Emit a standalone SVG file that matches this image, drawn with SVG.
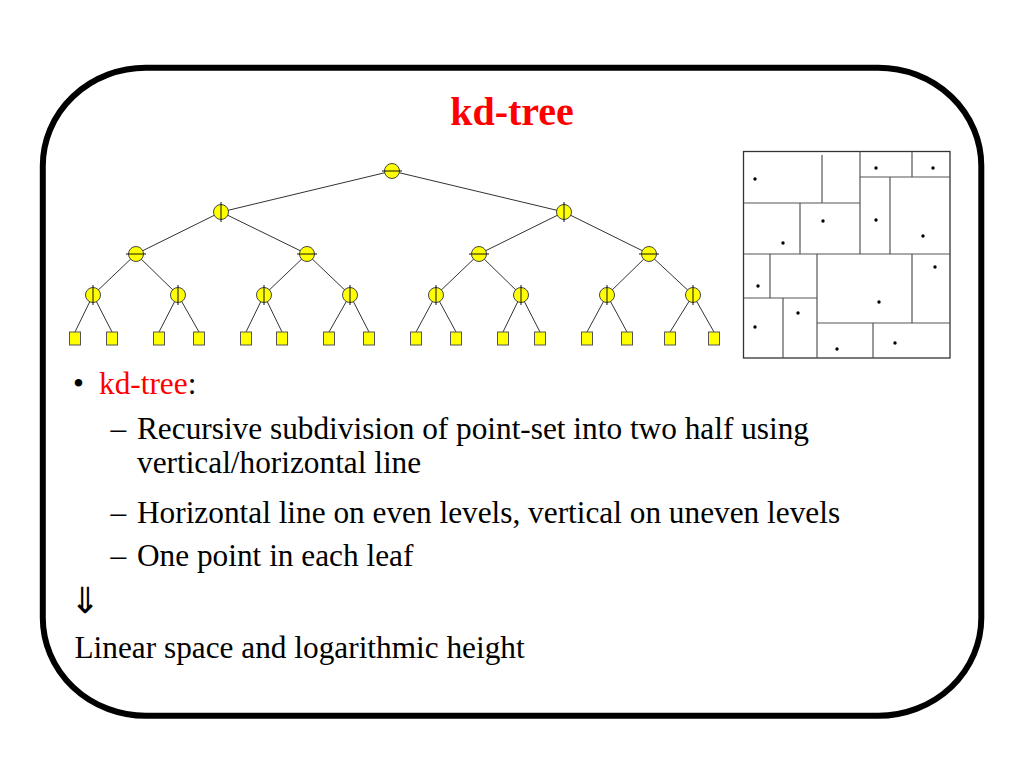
<svg xmlns="http://www.w3.org/2000/svg" width="1024" height="768" viewBox="0 0 1024 768">
<style>
.frame{fill:none;stroke:#000;stroke-width:6}
.edge{stroke:#333;stroke-width:1;fill:none}
.inode{fill:#ffff00;stroke:#444;stroke-width:1}
.leaf{fill:#ffff00;stroke:#555;stroke-width:1}
.div{stroke:#111;stroke-width:1}
.box{fill:none;stroke:#333;stroke-width:1.3}
.cut{stroke:#555;stroke-width:1.2}
.pt{fill:#000}
.t{font-family:"Liberation Serif","Times New Roman",serif;font-size:31.3px;fill:#000}
.title{font-family:"Liberation Serif","Times New Roman",serif;font-size:40px;font-weight:bold;fill:#ff0000}
.red{fill:#ff0000}
.arrow{font-family:"DejaVu Sans",sans-serif;font-size:36px;fill:#000}
</style>
<rect class="frame" x="42.8" y="67.8" width="938.5" height="648" rx="103" ry="98"/>
<text class="title" x="512" y="125" text-anchor="middle">kd-tree</text>

<g id="connectors">
<line class="edge" x1="392" y1="171" x2="221" y2="212"/>
<line class="edge" x1="392" y1="171" x2="564" y2="212"/>
<line class="edge" x1="221" y1="212" x2="136" y2="254"/>
<line class="edge" x1="221" y1="212" x2="307" y2="254"/>
<line class="edge" x1="564" y1="212" x2="479" y2="254"/>
<line class="edge" x1="564" y1="212" x2="649" y2="254"/>
<line class="edge" x1="136" y1="254" x2="93" y2="295"/>
<line class="edge" x1="136" y1="254" x2="178" y2="295"/>
<line class="edge" x1="307" y1="254" x2="264" y2="295"/>
<line class="edge" x1="307" y1="254" x2="350" y2="295"/>
<line class="edge" x1="479" y1="254" x2="436" y2="295"/>
<line class="edge" x1="479" y1="254" x2="521" y2="295"/>
<line class="edge" x1="649" y1="254" x2="607" y2="295"/>
<line class="edge" x1="649" y1="254" x2="693" y2="295"/>
<line class="edge" x1="93" y1="295" x2="75" y2="332"/>
<line class="edge" x1="93" y1="295" x2="112" y2="332"/>
<line class="edge" x1="178" y1="295" x2="159" y2="332"/>
<line class="edge" x1="178" y1="295" x2="199" y2="332"/>
<line class="edge" x1="264" y1="295" x2="246" y2="332"/>
<line class="edge" x1="264" y1="295" x2="282" y2="332"/>
<line class="edge" x1="350" y1="295" x2="329" y2="332"/>
<line class="edge" x1="350" y1="295" x2="369" y2="332"/>
<line class="edge" x1="436" y1="295" x2="416" y2="332"/>
<line class="edge" x1="436" y1="295" x2="456" y2="332"/>
<line class="edge" x1="521" y1="295" x2="503" y2="332"/>
<line class="edge" x1="521" y1="295" x2="540" y2="332"/>
<line class="edge" x1="607" y1="295" x2="587" y2="332"/>
<line class="edge" x1="607" y1="295" x2="627" y2="332"/>
<line class="edge" x1="693" y1="295" x2="670" y2="332"/>
<line class="edge" x1="693" y1="295" x2="714" y2="332"/>
</g>

<g id="n0"><circle class="inode" cx="392" cy="171" r="7.5"/><line class="div" x1="382" y1="171" x2="402" y2="171"/></g>
<g id="n1"><circle class="inode" cx="221" cy="212" r="7.5"/><line class="div" x1="221" y1="202" x2="221" y2="222"/></g>
<g id="n2"><circle class="inode" cx="564" cy="212" r="7.5"/><line class="div" x1="564" y1="202" x2="564" y2="222"/></g>
<g id="n3"><circle class="inode" cx="136" cy="254" r="7.5"/><line class="div" x1="126" y1="254" x2="146" y2="254"/></g>
<g id="n4"><circle class="inode" cx="307" cy="254" r="7.5"/><line class="div" x1="297" y1="254" x2="317" y2="254"/></g>
<g id="n5"><circle class="inode" cx="479" cy="254" r="7.5"/><line class="div" x1="469" y1="254" x2="489" y2="254"/></g>
<g id="n6"><circle class="inode" cx="649" cy="254" r="7.5"/><line class="div" x1="639" y1="254" x2="659" y2="254"/></g>
<g id="n7"><circle class="inode" cx="93" cy="295" r="7.5"/><line class="div" x1="93" y1="285" x2="93" y2="305"/></g>
<g id="n8"><circle class="inode" cx="178" cy="295" r="7.5"/><line class="div" x1="178" y1="285" x2="178" y2="305"/></g>
<g id="n9"><circle class="inode" cx="264" cy="295" r="7.5"/><line class="div" x1="264" y1="285" x2="264" y2="305"/></g>
<g id="n10"><circle class="inode" cx="350" cy="295" r="7.5"/><line class="div" x1="350" y1="285" x2="350" y2="305"/></g>
<g id="n11"><circle class="inode" cx="436" cy="295" r="7.5"/><line class="div" x1="436" y1="285" x2="436" y2="305"/></g>
<g id="n12"><circle class="inode" cx="521" cy="295" r="7.5"/><line class="div" x1="521" y1="285" x2="521" y2="305"/></g>
<g id="n13"><circle class="inode" cx="607" cy="295" r="7.5"/><line class="div" x1="607" y1="285" x2="607" y2="305"/></g>
<g id="n14"><circle class="inode" cx="693" cy="295" r="7.5"/><line class="div" x1="693" y1="285" x2="693" y2="305"/></g>

<g id="leaf1"><rect class="leaf" x="69.5" y="332" width="11" height="13"/></g>
<g id="leaf2"><rect class="leaf" x="106.5" y="332" width="11" height="13"/></g>
<g id="leaf3"><rect class="leaf" x="153.5" y="332" width="11" height="13"/></g>
<g id="leaf4"><rect class="leaf" x="193.5" y="332" width="11" height="13"/></g>
<g id="leaf5"><rect class="leaf" x="240.5" y="332" width="11" height="13"/></g>
<g id="leaf6"><rect class="leaf" x="276.5" y="332" width="11" height="13"/></g>
<g id="leaf7"><rect class="leaf" x="323.5" y="332" width="11" height="13"/></g>
<g id="leaf8"><rect class="leaf" x="363.5" y="332" width="11" height="13"/></g>
<g id="leaf9"><rect class="leaf" x="410.5" y="332" width="11" height="13"/></g>
<g id="leaf10"><rect class="leaf" x="450.5" y="332" width="11" height="13"/></g>
<g id="leaf11"><rect class="leaf" x="497.5" y="332" width="11" height="13"/></g>
<g id="leaf12"><rect class="leaf" x="534.5" y="332" width="11" height="13"/></g>
<g id="leaf13"><rect class="leaf" x="581.5" y="332" width="11" height="13"/></g>
<g id="leaf14"><rect class="leaf" x="621.5" y="332" width="11" height="13"/></g>
<g id="leaf15"><rect class="leaf" x="664.5" y="332" width="11" height="13"/></g>
<g id="leaf16"><rect class="leaf" x="708.5" y="332" width="11" height="13"/></g>

<g id="subdivision">
<rect class="box" x="743.5" y="151.5" width="206.5" height="206.5"/>
<line class="cut" x1="743.5" y1="254" x2="950" y2="254"/>
<line class="cut" x1="860" y1="151.5" x2="860" y2="254"/>
<line class="cut" x1="743.5" y1="203" x2="860" y2="203"/>
<line class="cut" x1="822" y1="155" x2="822" y2="203"/>
<line class="cut" x1="800" y1="203" x2="800" y2="254"/>
<line class="cut" x1="860" y1="177" x2="950" y2="177"/>
<line class="cut" x1="912" y1="151.5" x2="912" y2="177"/>
<line class="cut" x1="890" y1="177" x2="890" y2="254"/>
<line class="cut" x1="817" y1="254" x2="817" y2="358"/>
<line class="cut" x1="743.5" y1="298" x2="817" y2="298"/>
<line class="cut" x1="770" y1="254" x2="770" y2="298"/>
<line class="cut" x1="783" y1="298" x2="783" y2="358"/>
<line class="cut" x1="817" y1="323" x2="950" y2="323"/>
<line class="cut" x1="912" y1="254" x2="912" y2="323"/>
<line class="cut" x1="873" y1="323" x2="873" y2="358"/>
<circle class="pt" cx="755" cy="179" r="1.7"/>
<circle class="pt" cx="876" cy="168" r="1.7"/>
<circle class="pt" cx="933" cy="168" r="1.7"/>
<circle class="pt" cx="823" cy="221" r="1.7"/>
<circle class="pt" cx="783" cy="243" r="1.7"/>
<circle class="pt" cx="876" cy="220" r="1.7"/>
<circle class="pt" cx="923" cy="236" r="1.7"/>
<circle class="pt" cx="935" cy="267" r="1.7"/>
<circle class="pt" cx="758" cy="286" r="1.7"/>
<circle class="pt" cx="879" cy="302" r="1.7"/>
<circle class="pt" cx="798" cy="313" r="1.7"/>
<circle class="pt" cx="755" cy="327" r="1.7"/>
<circle class="pt" cx="837" cy="349" r="1.7"/>
<circle class="pt" cx="895" cy="343" r="1.7"/>
</g>

<g id="text">
<text class="t" x="73" y="394">•</text>
<text class="t" x="99" y="394"><tspan class="red">kd-tree</tspan>:</text>
<text class="t" x="110.5" y="439">–</text>
<text class="t" x="137" y="439">Recursive subdivision of point-set into two half using</text>
<text class="t" x="137" y="473">vertical/horizontal line</text>
<text class="t" x="110.5" y="523">–</text>
<text class="t" x="137" y="523">Horizontal line on even levels, vertical on uneven levels</text>
<text class="t" x="110.5" y="566">–</text>
<text class="t" x="137" y="566">One point in each leaf</text>
<text class="arrow" x="70" y="613">⇓</text>
<text class="t" x="74.5" y="658">Linear space and logarithmic height</text>
</g>
</svg>
